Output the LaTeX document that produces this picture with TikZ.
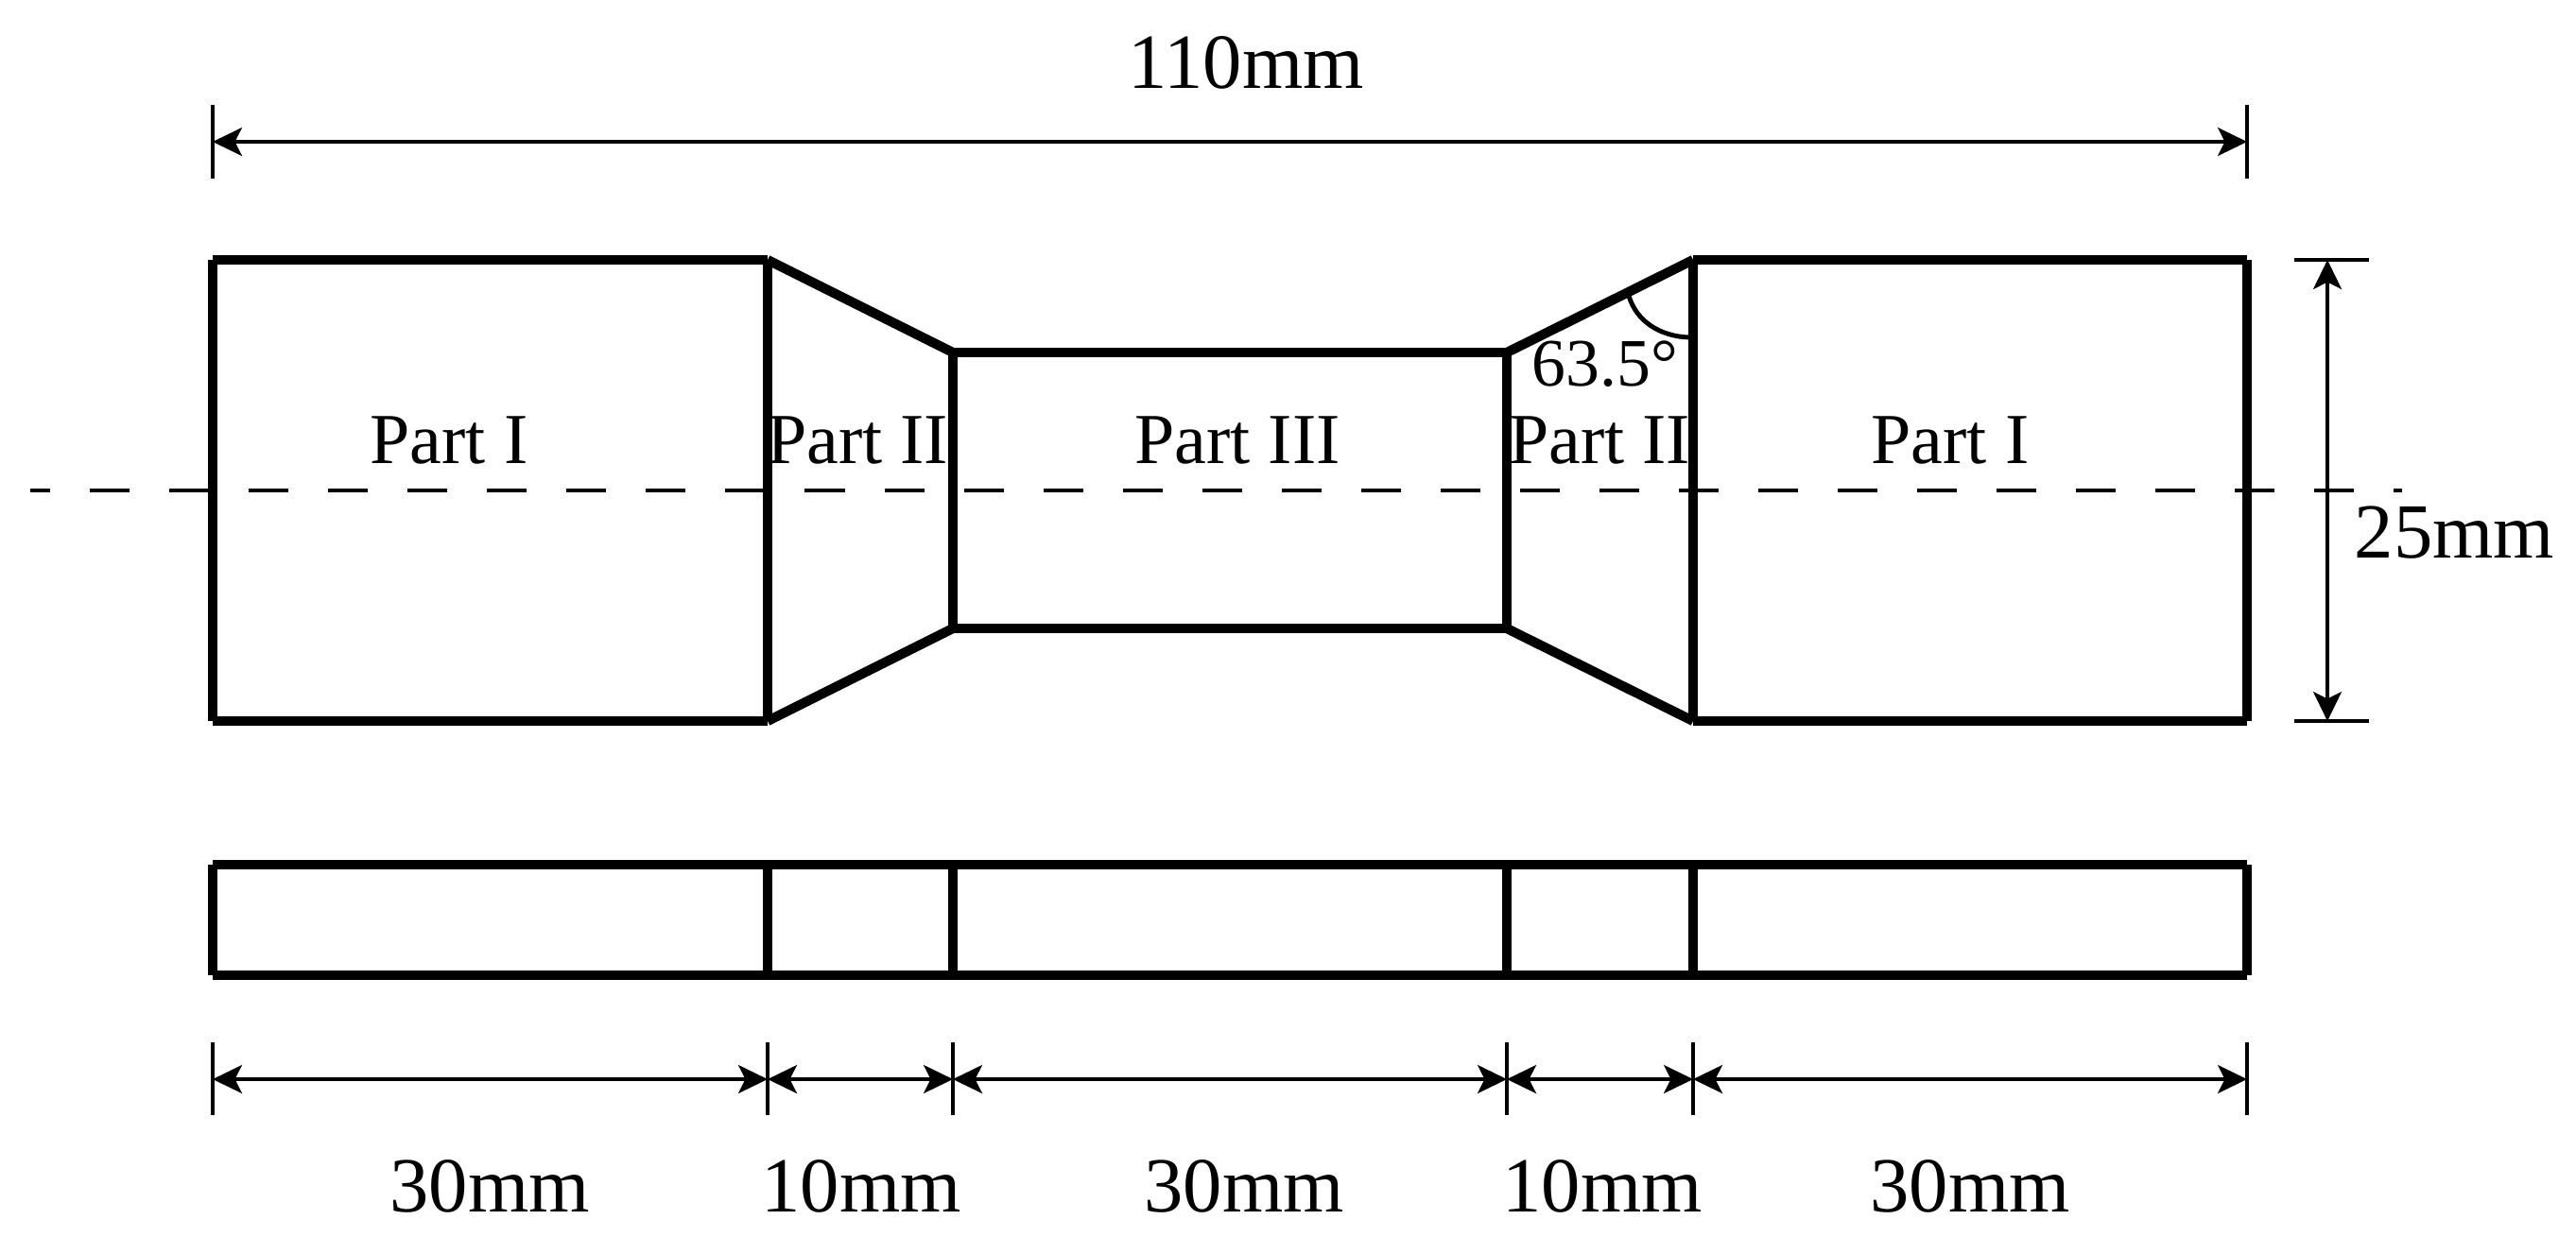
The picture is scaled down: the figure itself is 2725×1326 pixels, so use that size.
\documentclass[tikz,border=0pt]{standalone}
\usepackage{fontspec}
\setmainfont{Liberation Serif}
\usetikzlibrary{arrows.meta}
\tikzset{
  part/.style={line width=2.9pt,line cap=butt,black},
  ext/.style={line width=0.95pt,black},
  dimline/.style={line width=0.95pt,black,{Stealth[length=0.31cm,width=0.3cm,inset=0.075cm]}-{Stealth[length=0.31cm,width=0.3cm,inset=0.075cm]}},
  axisline/.style={line width=1.1pt,black,dash pattern=on 11.95pt off 11.95pt,dash phase=5.97pt},
  anglearc/.style={line width=1.4pt,black},
  dimtext/.style={font=\fontsize{23.5}{27}\selectfont,anchor=base,inner sep=0pt},
  parttext/.style={font=\fontsize{21.6}{25}\selectfont,anchor=base,inner sep=0pt},
  angletext/.style={font=\fontsize{20.4}{24}\selectfont,anchor=base,inner sep=0pt}
}
\begin{document}
\begin{tikzpicture}[x=0.01cm,y=-0.01cm]
\useasboundingbox (0,0) rectangle (2725,1326);
% outline corners
\coordinate (a1) at (225,275);   \coordinate (a2) at (812,275);
\coordinate (a3) at (1008,373);  \coordinate (a4) at (1594,373);
\coordinate (a5) at (1791,275);  \coordinate (a6) at (2377,275);
\coordinate (b1) at (225,763);   \coordinate (b2) at (812,763);
\coordinate (b3) at (1008,665);  \coordinate (b4) at (1594,665);
\coordinate (b5) at (1791,763);  \coordinate (b6) at (2377,763);
% strip corners
\coordinate (s1) at (225,915);   \coordinate (s2) at (812,915);
\coordinate (s3) at (1008,915);  \coordinate (s4) at (1594,915);
\coordinate (s5) at (1791,915);  \coordinate (s6) at (2377,915);
\coordinate (t1) at (225,1032);  \coordinate (t2) at (812,1032);
\coordinate (t3) at (1008,1032); \coordinate (t4) at (1594,1032);
\coordinate (t5) at (1791,1032); \coordinate (t6) at (2377,1032);
% axis
\coordinate (axL) at (32,519); \coordinate (axR) at (2541,519);
\draw[axisline] (axL) -- (axR);
% outline, each edge a separate stroke
\draw[part] (a1) -- (a2);
\draw[part] (a2) -- (a3);
\draw[part] (a3) -- (a4);
\draw[part] (a4) -- (a5);
\draw[part] (a5) -- (a6);
\draw[part] (b1) -- (b2);
\draw[part] (b2) -- (b3);
\draw[part] (b3) -- (b4);
\draw[part] (b4) -- (b5);
\draw[part] (b5) -- (b6);
\draw[part] (a1) -- (b1);
\draw[part] (a2) -- (b2);
\draw[part] (a3) -- (b3);
\draw[part] (a4) -- (b4);
\draw[part] (a5) -- (b5);
\draw[part] (a6) -- (b6);
% strip
\draw[part] (s1) -- (s6);
\draw[part] (t1) -- (t6);
\draw[part] (s1) -- (t1);
\draw[part] (s2) -- (t2);
\draw[part] (s3) -- (t3);
\draw[part] (s4) -- (t4);
\draw[part] (s5) -- (t5);
\draw[part] (s6) -- (t6);
% angle
\coordinate (arcS) at (1787,357);
\coordinate (arcE) at (1723,313);
\coordinate (arcC1) at (1756,356);
\coordinate (arcC2) at (1731,340);
\draw[anglearc] (arcS) .. controls (arcC1) and (arcC2) .. (arcE);
% top dimension
\coordinate (e1t) at (225,111); \coordinate (e1b) at (225,189);
\coordinate (e6t) at (2377,111); \coordinate (e6b) at (2377,189);
\coordinate (d1) at (225,150); \coordinate (d6) at (2377,150);
\draw[ext] (e1t) -- (e1b);
\draw[ext] (e6t) -- (e6b);
\draw[dimline] (d1) -- (d6);
% right dimension
\coordinate (r1a) at (2427,275); \coordinate (r1b) at (2506,275);
\coordinate (r2a) at (2427,763); \coordinate (r2b) at (2506,763);
\coordinate (r1) at (2462,275); \coordinate (r2) at (2462,763);
\draw[ext] (r1a) -- (r1b);
\draw[ext] (r2a) -- (r2b);
\draw[dimline] (r1) -- (r2);
% bottom dimensions
\foreach \n/\x in {1/225,2/812,3/1008,4/1594,5/1791,6/2377}{
  \coordinate (q\n t) at (\x,1103);
  \coordinate (q\n b) at (\x,1180);
  \coordinate (q\n) at (\x,1142);
  \draw[ext] (q\n t) -- (q\n b);
}
\draw[dimline] (q1) -- (q2);
\draw[dimline] (q2) -- (q3);
\draw[dimline] (q3) -- (q4);
\draw[dimline] (q4) -- (q5);
\draw[dimline] (q5) -- (q6);
% texts
\node[dimtext] (t110) at (1318,93) {110mm};
\node[dimtext,anchor=base west] (t25) at (2490,590) {25mm};
\node[dimtext] (b1t) at (518,1282) {30mm};
\node[dimtext] (b2t) at (911,1282) {10mm};
\node[dimtext] (b3t) at (1316,1282) {30mm};
\node[dimtext] (b4t) at (1695,1282) {10mm};
\node[dimtext] (b5t) at (2084,1282) {30mm};
\node[parttext] (p1) at (475,490) {Part I};
\node[parttext] (p2) at (907,490) {Part II};
\node[parttext] (p3) at (1309,490) {Part III};
\node[parttext] (p4) at (1692,490) {Part II};
\node[parttext] (p5) at (2063,490) {Part I};
\node[angletext] (ang) at (1698,408) {63.5°};
\end{tikzpicture}
\end{document}
